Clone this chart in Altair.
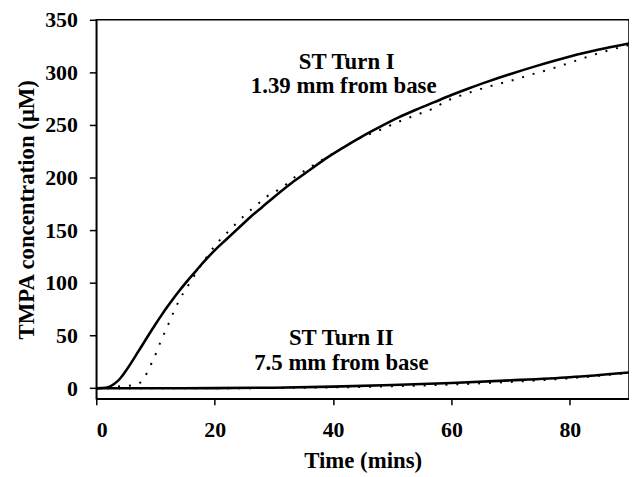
import altair as alt
import pandas as pd

# ST Turn I (1.39 mm from base) - solid (model) curve
t1_solid = [0, 1, 2, 3, 4, 5, 6, 7, 8, 9, 10, 11, 12, 13, 14, 15, 16, 17, 18, 20, 22, 24, 26, 28, 30,
            33, 36, 39, 42, 45, 48, 51, 54, 57, 60, 63, 66, 70, 74, 78, 82, 86, 90]
v1_solid = [0, 0.2, 1, 4, 9, 16.5, 25, 34, 43, 52, 60.8, 69.2, 77.3, 85, 92.3, 99.3, 106, 112.5, 119,
            131, 141.5, 152, 162.5, 172, 181.5, 195, 207, 219, 229.5, 239.5, 248.5, 257, 264.5, 271.5,
            278.5, 285, 291, 298.5, 305.5, 312, 318, 323, 327.5]

# ST Turn I - dotted (measured) curve
t1_dot = [0, 2, 3.5, 5.4, 7.1, 8.5, 9.4, 10.2, 10.9, 11.7, 12.5, 13.3, 14.2, 15.3, 16.4, 18.8, 20.1,
          21.8, 23.5, 25.3, 27.1, 28.8, 30.6, 32.1, 33.8, 35.6, 37.4, 39.1, 41, 42.9, 44.7, 48, 51, 54,
          57, 59, 62.6, 66.3, 69.9, 73.5, 77.1, 80.8, 84.4, 90]
v1_dot = [0, 0.5, 1.6, 2.2, 4.1, 14, 24.5, 34.6, 44.7, 54.7, 65, 75.2, 85.6, 95.6, 105.7, 125.8, 135.8,
          146, 155.7, 165.5, 174, 182, 188, 193.8, 201.6, 208, 214.5, 220, 226.4, 232.7, 238, 245.5,
          253, 259.5, 266, 272.4, 280, 286.5, 291.9, 298, 303.8, 310.7, 317.4, 326]

# ST Turn II (7.5 mm from base)
t2_solid = [0, 10, 20, 30, 40, 50, 60, 70, 80, 90]
v2_solid = [0, 0, 0.1, 0.5, 1.5, 3, 5, 7.5, 10.5, 15]
t2_dot = [0, 10, 20, 30, 40, 50, 60, 70, 80, 90]
v2_dot = [0, 0, 0, 0.2, 0.8, 1.8, 3.5, 6, 9.5, 14.5]

# Annotations
ann_x = [42.3, 41.8, 41.4, 41.4]
ann_y = [303.5, 280, 41, 17.5]
ann_text = ["ST Turn I", "1.39 mm from base", "ST Turn II", "7.5 mm from base"]

x_ticks = [0, 20, 40, 60, 80]
y_ticks = [0, 50, 100, 150, 200, 250, 300, 350]

FONT = "Liberation Serif"

solid = pd.concat([
    pd.DataFrame({"t": t1_solid, "v": v1_solid, "s": "Turn I"}),
    pd.DataFrame({"t": t2_solid, "v": v2_solid, "s": "Turn II"}),
])
dotted = pd.concat([
    pd.DataFrame({"t": t1_dot, "v": v1_dot, "s": "Turn I"}),
    pd.DataFrame({"t": t2_dot, "v": v2_dot, "s": "Turn II"}),
])
ann = pd.DataFrame({"x": ann_x, "y": ann_y, "label": ann_text})

xscale = alt.Scale(domain=[0, 90], nice=False, zero=False)
yscale = alt.Scale(domain=[-10, 350], nice=False, zero=False)

xaxis = alt.Axis(values=x_ticks, title="Time (mins)", grid=False, tickSize=6, labelPadding=15,
                 titlePadding=9)
yaxis = alt.Axis(values=y_ticks, title="TMPA concentration (\u03bcM)", grid=False, tickSize=7,
                 labelPadding=12, titlePadding=6)

dot_layer = alt.Chart(dotted).mark_line(color="black", strokeWidth=2, strokeDash=[2, 9],
                                        strokeCap="butt", interpolate="monotone").encode(
    x=alt.X("t:Q", scale=xscale, axis=xaxis),
    y=alt.Y("v:Q", scale=yscale, axis=yaxis),
    detail="s:N",
)

solid_layer = alt.Chart(solid).mark_line(color="black", strokeWidth=2.6,
                                         interpolate="monotone").encode(
    x=alt.X("t:Q", scale=xscale),
    y=alt.Y("v:Q", scale=yscale),
    detail="s:N",
)

text_layer = alt.Chart(ann).mark_text(font=FONT, fontSize=23, fontWeight="bold", color="black",
                                      align="center", baseline="alphabetic").encode(
    x=alt.X("x:Q", scale=xscale),
    y=alt.Y("y:Q", scale=yscale),
    text="label:N",
)

chart = alt.layer(dot_layer, solid_layer, text_layer).properties(
    width=537, height=382,
    background="white",
    autosize=alt.AutoSizeParams(type="none"),
    padding={"left": 89, "top": 10, "right": 0, "bottom": 77},
).configure_view(
    stroke="black", strokeWidth=1.5
).configure_axis(
    labelFont=FONT, labelFontSize=22, labelFontWeight="bold", labelColor="black",
    titleFont=FONT, titleFontSize=23, titleFontWeight="bold", titleColor="black",
    domainColor="black", domainWidth=1.5, tickColor="black", tickWidth=1.5,
)

chart.save("out.html", embed_options={"renderer": "svg", "actions": False})
